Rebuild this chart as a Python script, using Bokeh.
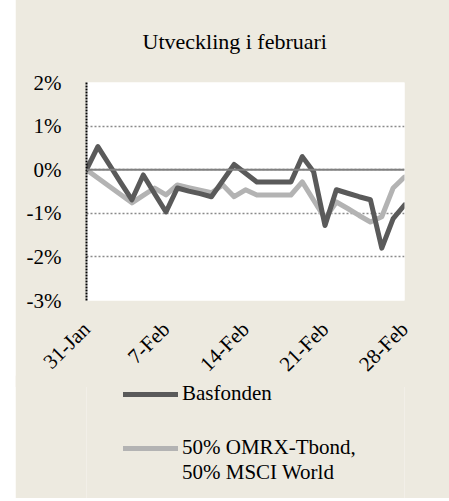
import pandas as pd
from bokeh.plotting import figure
from bokeh.models import FixedTicker, Span, Legend, LegendItem
from bokeh.layouts import column
from bokeh.embed import file_html
from bokeh.resources import INLINE

# ---- data ----
dates = pd.date_range("2011-01-31", "2011-02-28", freq="D")
day_labels = [f"{d.day}-{d.strftime('%b')}" for d in dates]
tick_days = [0, 7, 14, 21, 28]
y_ticks = [-3, -2, -1, 0, 1, 2]
y_tick_labels = ["-3%", "-2%", "-1%", "0%", "1%", "2%"]

basfonden = [0.00, 0.53, 0.12, -0.29, -0.69, -0.12, -0.55, -0.97, -0.42, -0.49,
             -0.55, -0.62, -0.25, 0.12, -0.08, -0.28, -0.28, -0.28, -0.28, 0.30,
             -0.05, -1.28, -0.46, -0.54, -0.62, -0.69, -1.80, -1.12, -0.81]
index_5050 = [0.00, -0.19, -0.38, -0.57, -0.76, -0.59, -0.42, -0.58, -0.35, -0.41,
              -0.47, -0.53, -0.35, -0.62, -0.46, -0.58, -0.58, -0.58, -0.58, -0.28,
              -0.70, -1.12, -0.74, -0.89, -1.05, -1.20, -1.08, -0.42, -0.17]
series_names = ["Basfonden", "50% OMRX-Tbond,", "50% MSCI World"]
x = list(range(len(dates)))

BEIGE = "#edeae0"
FONT = "Liberation Serif"
FS = "21px"
DARK = "#5a5a5a"
LIGHT = "#b3b3b3"

p = figure(width=434, height=390, output_backend="svg", toolbar_location=None,
           x_range=(0, 28), y_range=(-3, 2),
           min_border_left=71, min_border_right=45, min_border_top=78, min_border_bottom=80)
p.border_fill_color = BEIGE
p.background_fill_color = "white"
p.outline_line_color = None

p.title.text = "Utveckling i februari"
p.title.align = "left"
p.title.offset = 56
p.title.standoff = 58
p.title.text_font = FONT
p.title.text_font_size = "22px"
p.title.text_font_style = "normal"
p.title.text_color = "black"

# axes
p.xaxis.ticker = FixedTicker(ticks=tick_days)
p.xaxis.major_label_overrides = {d: day_labels[d] for d in tick_days}
p.xaxis.major_label_orientation = 0.785398
p.xaxis.axis_line_color = None
p.xaxis.major_tick_line_color = None
p.xaxis.minor_tick_line_color = None
p.xaxis.major_label_text_font = FONT
p.xaxis.major_label_text_font_size = FS
p.xaxis.major_label_text_color = "black"
p.xaxis.major_label_standoff = 19

p.yaxis.ticker = FixedTicker(ticks=y_ticks)
p.yaxis.major_label_overrides = dict(zip(y_ticks, y_tick_labels))
p.yaxis.axis_line_color = "black"
p.yaxis.axis_line_width = 2
p.yaxis.axis_line_dash = "2 1"
p.yaxis.major_tick_line_color = None
p.yaxis.minor_tick_line_color = None
p.yaxis.major_label_text_font = FONT
p.yaxis.major_label_text_font_size = FS
p.yaxis.major_label_text_color = "black"
p.yaxis.major_label_standoff = 19

p.xgrid.grid_line_color = None
p.ygrid.ticker = FixedTicker(ticks=y_ticks)
p.ygrid.grid_line_color = "#8a8a8a"
p.ygrid.grid_line_width = 1.5
p.ygrid.grid_line_dash = "2 2"

p.add_layout(Span(location=0, dimension="width", line_color="#808080", line_width=2))

p.line(x, index_5050, line_color=LIGHT, line_width=5, line_join="round", line_cap="round")
p.line(x, basfonden, line_color=DARK, line_width=5, line_join="round", line_cap="round")

# ---- legend panel ----
lf = figure(width=434, height=123, output_backend="svg", toolbar_location=None,
            x_axis_type=None, y_axis_type=None, x_range=(0, 1), y_range=(0, 1),
            min_border=0)
lf.styles = {"margin-top": "-12px"}
lf.border_fill_color = BEIGE
lf.background_fill_color = BEIGE
lf.outline_line_color = None
lf.xgrid.grid_line_color = None
lf.ygrid.grid_line_color = None
ld = lf.line([5, 6], [5, 5], line_color=DARK, line_width=5, line_cap="round")
ll = lf.line([5, 6], [5, 5], line_color=LIGHT, line_width=5, line_cap="round")
lx = lf.line([5, 6], [5, 5], line_alpha=0)

def mk_legend(items, loc):
    return Legend(items=items, location=loc, orientation="vertical",
                  background_fill_alpha=0, border_line_alpha=0, padding=0, margin=0,
                  spacing=0, glyph_width=55, glyph_height=24, label_height=24,
                  label_standoff=4, label_text_font=FONT, label_text_font_size=FS,
                  label_text_color="black")

lf.add_layout(mk_legend([LegendItem(label=series_names[0], renderers=[ld])], (37, 92)))
lf.add_layout(mk_legend([LegendItem(label=series_names[1], renderers=[ll]),
                         LegendItem(label=series_names[2], renderers=[lx])], (37, 13)))

layout = column(p, lf, spacing=0, styles={"margin-left": "15px", "margin-top": "-3px"})
open("out.html", "w").write(file_html(layout, INLINE))
